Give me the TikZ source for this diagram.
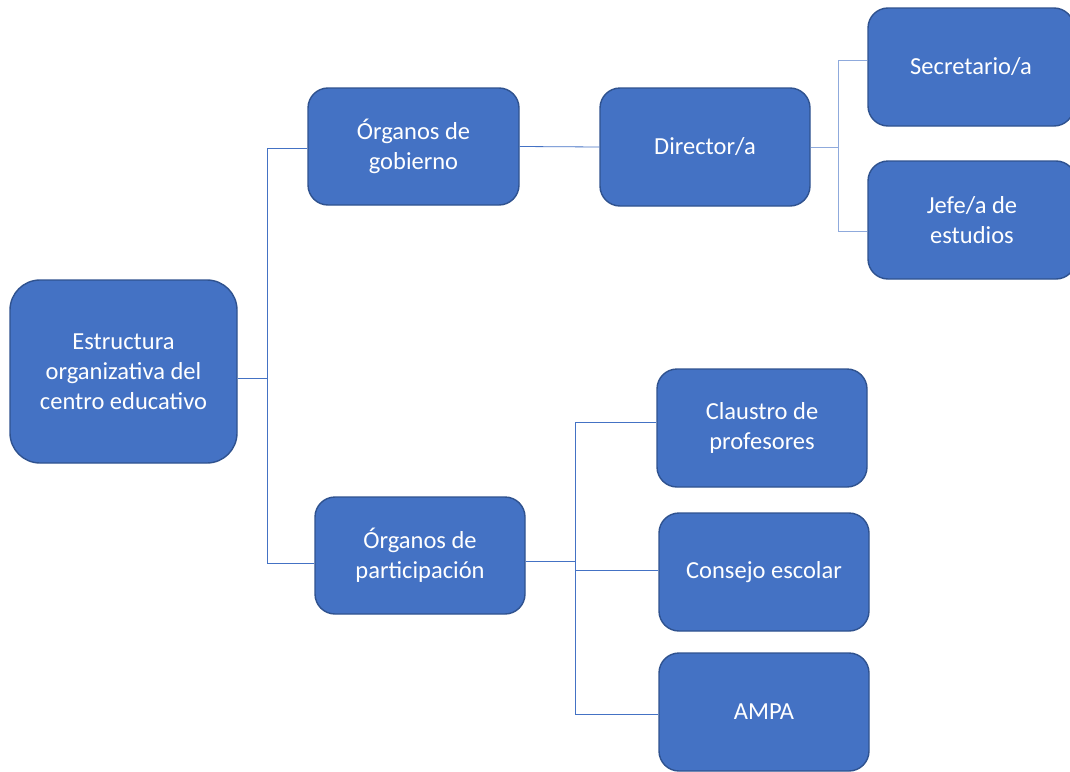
\documentclass[tikz,border=0pt]{standalone}
\usepackage{fontspec}
\setmainfont{Carlito}
\definecolor{boxfill}{HTML}{4472C4}
\definecolor{boxline}{HTML}{2F528F}
\definecolor{conn}{HTML}{4472C4}
\definecolor{connlight}{HTML}{8FAADC}
\begin{document}
\begin{tikzpicture}[x=1pt,y=-1pt,
  orgbox/.style={draw=boxline,line width=1.4pt,fill=boxfill,rounded corners=20pt,
    minimum width=210pt,minimum height=118pt,text=white,align=center,
    font=\fontsize{24.5}{30}\selectfont,inner sep=0pt},
  link/.style={draw=conn,line width=0.8pt},
  linklight/.style={draw=connlight,line width=0.8pt}]
\useasboundingbox (0,0) rectangle (1070,771);
\begin{scope}
\clip (0,0) rectangle (1070,771);
\node[orgbox,minimum width=227pt,minimum height=183pt,rounded corners=30pt] (est) at (123.5,371.5) {Estructura\\organizativa del\\centro educativo};
\node[orgbox,minimum width=211pt,minimum height=117pt] (gob) at (413.5,146.5) {Órganos de\\gobierno};
\node[orgbox] (dir) at (705,147) {Director/a};
\node[orgbox,minimum width=206pt] (sec) at (971,67) {Secretario/a};
\node[orgbox,minimum width=208pt] (jef) at (972,220) {Jefe/a de\\estudios};
\node[orgbox,minimum height=117pt] (par) at (420,555.5) {Órganos de\\participación};
\node[orgbox] (cla) at (762,428) {Claustro de\\profesores};
\node[orgbox] (con) at (764,572) {Consejo escolar};
\node[orgbox] (amp) at (764,712) {AMPA};
\end{scope}
% connectors
\coordinate (t1) at (267,378);
\coordinate (g1) at (267,148);
\coordinate (p1) at (267,563);
\draw[link] (est.east|-t1) -- (t1);
\draw[link] (g1) -- (p1);
\draw[link] (g1) -- (gob.west|-g1);
\draw[link] (p1) -- (par.west|-p1);
\draw[link] (gob.east) -- (dir.west);
\coordinate (t2) at (838,147);
\coordinate (s2) at (838,60);
\coordinate (j2) at (838,231);
\draw[linklight] (dir.east) -- (t2);
\draw[linklight] (s2) -- (j2);
\draw[linklight] (s2) -- (sec.west|-s2);
\draw[linklight] (j2) -- (jef.west|-j2);
\coordinate (t3) at (575,561);
\coordinate (c3) at (575,422);
\coordinate (k3) at (575,570);
\coordinate (a3) at (575,714);
\draw[link] (par.east|-t3) -- (t3);
\draw[link] (c3) -- (a3);
\draw[link] (c3) -- (cla.west|-c3);
\draw[link] (k3) -- (con.west|-k3);
\draw[link] (a3) -- (amp.west|-a3);
\end{tikzpicture}
\end{document}
